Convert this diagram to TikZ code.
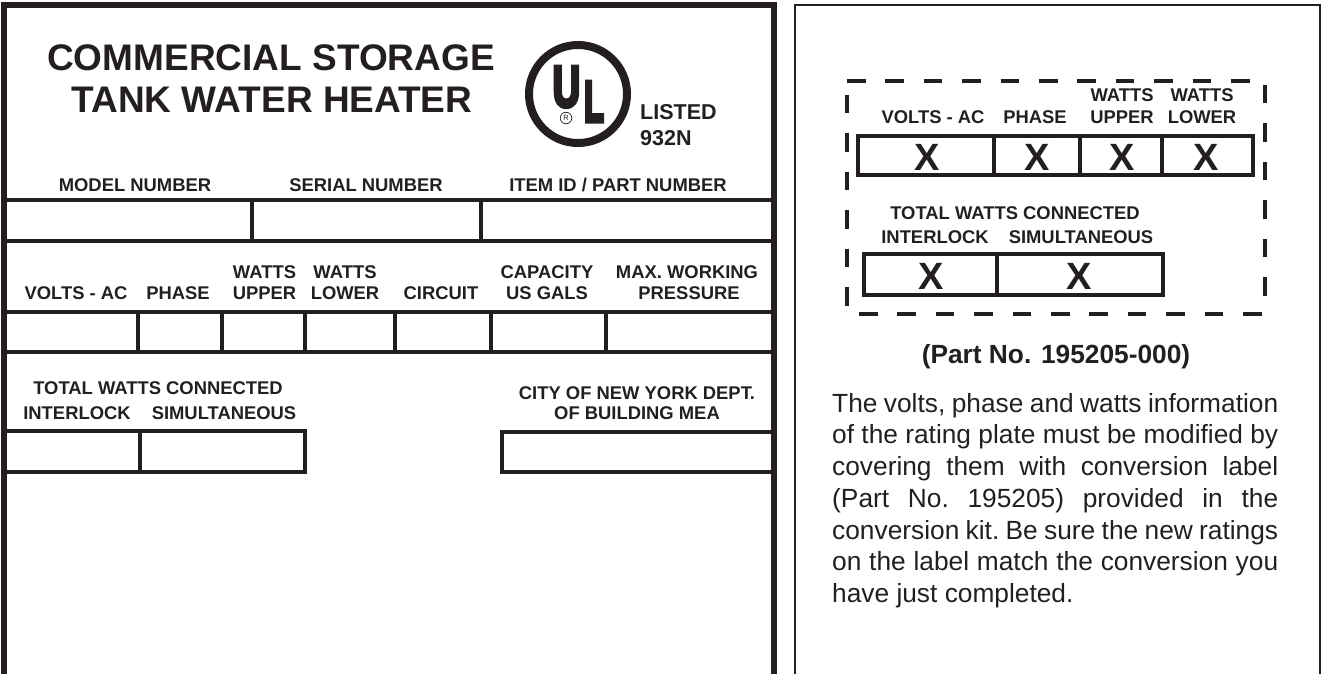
\documentclass[tikz,border=0pt]{standalone}
\usepackage{fontspec}
\setmainfont{Liberation Sans}
\newfontfamily\ulfont[RawFeature={embolden=7}]{Liberation Sans Bold}
\usetikzlibrary{positioning}
\definecolor{ink}{HTML}{231F20}
\tikzset{
  heading/.style={font=\fontsize{37}{37}\selectfont\bfseries, text=ink, inner sep=0pt},
  lbl/.style={font=\fontsize{18.4}{18.4}\selectfont\bfseries, text=ink, inner sep=0pt, text height=13.2pt, text depth=0pt},
  biglbl/.style={lbl, font=\fontsize{21.5}{21.5}\selectfont\bfseries, text height=14.8pt},
  bigx/.style={font=\fontsize{38}{38}\selectfont\bfseries, text=ink, inner sep=0pt},
  logo/.style={text=ink, inner sep=0pt, font=\fontsize{58}{58}\ulfont, xscale=0.56, text height=40pt, text depth=0pt},
  rule/.style={draw=ink, line width=4pt},
  frame/.style={draw=ink, line width=5.5pt},
  cutline/.style={draw=ink, line width=4pt, dash pattern=on 18.5pt off 19.9pt}
}
\begin{document}
\begin{tikzpicture}[x=1pt, y=-1pt]
    \useasboundingbox (0,0) rectangle (1324,674);

    % rating plate
    \draw[frame] (4,674) -- (4,5) -- (774,5) -- (774,674);
    \node[heading] (title1) at (271,58) {COMMERCIAL STORAGE};
    \node[heading] (title2) at (272,100) {TANK WATER HEATER};

    \draw[draw=ink, line width=8pt] (578,94) circle (49);
    \node[logo, xscale=1.17] (ulu) at (566.5,86.5) {U};
    \node[logo] (ull) at (594,101.5) {L};
    \node[draw=ink, circle, line width=0.7pt, inner sep=0pt, minimum size=11.5pt, text=ink, font=\fontsize{7.5}{7.5}\selectfont] (ulr) at (566,118) {R};

    \node[biglbl, anchor=west] (listed) at (640,112) {LISTED};
    \node[biglbl, anchor=west] (file) at (640,138) {932N};

    \node[lbl] (model) at (135,185) {MODEL NUMBER};
    \node[lbl] (serial) at (366,185) {SERIAL NUMBER};
    \node[lbl] (item) at (618,185) {ITEM ID / PART NUMBER};

    \draw[rule] (4,200) -- (774,200);
    \draw[rule] (4,241) -- (774,241);
    \foreach \x in {252,481}
        \draw[rule] (\x,200) -- (\x,241);

    \node[lbl] (volts) at (76,293) {VOLTS - AC};
    \node[lbl] (phase) at (178,293) {PHASE};
    \node[lbl] (upper) at (264.5,293) {UPPER};
    \node[lbl, above=8pt of upper] (wupper) {WATTS};
    \node[lbl] (lower) at (345,293) {LOWER};
    \node[lbl, above=8pt of lower] (wlower) {WATTS};
    \node[lbl] (circuit) at (441,293) {CIRCUIT};
    \node[lbl] (gals) at (547,293) {US GALS};
    \node[lbl, above=8pt of gals] (capacity) {CAPACITY};
    \node[lbl] (pressure) at (689,293) {PRESSURE};
    \node[lbl, above=8pt of pressure, xshift=-2pt] (working) {MAX. WORKING};

    \draw[rule] (4,312) -- (774,312);
    \draw[rule] (4,352) -- (774,352);
    \foreach \x in {138,222,305,395,491,606}
        \draw[rule] (\x,312) -- (\x,352);

    \node[lbl] (total) at (158,388) {TOTAL WATTS CONNECTED};
    \node[lbl] (interlock) at (77,413) {INTERLOCK};
    \node[lbl] (simul) at (224,413) {SIMULTANEOUS};
    \node[lbl] (city) at (637,393) {CITY OF NEW YORK DEPT.};
    \node[lbl] (mea) at (637,413) {OF BUILDING MEA};

    \draw[rule] (4,431) -- (305,431) -- (305,472) -- (4,472);
    \draw[rule] (140,431) -- (140,472);
    \draw[rule] (774,432) -- (502,432) -- (502,472) -- (774,472);

    % conversion label
    \draw[draw=ink, line width=2.5pt] (795,674) -- (795,5) -- (1320,5) -- (1320,674);

    \draw[cutline] (847,81) -- (1263,81);
    \draw[cutline] (859,314) -- (1263,314);
    \draw[cutline] (847,95) -- (847,308);
    \draw[cutline] (1265,85) -- (1265,300);

    \node[lbl] (cvolts) at (933,117) {VOLTS - AC};
    \node[lbl] (cphase) at (1035,117) {PHASE};
    \node[lbl] (cupper) at (1122,117) {UPPER};
    \node[lbl, above=8pt of cupper] (cwupper) {WATTS};
    \node[lbl] (clower) at (1202,117) {LOWER};
    \node[lbl, above=8pt of clower] (cwlower) {WATTS};

    \draw[rule] (858,136) rectangle (1253,175);
    \foreach \x in {994,1080,1162}
        \draw[rule] (\x,136) -- (\x,175);
    \foreach \x/\n in {927/xa,1037/xb,1122/xc,1206/xd}
        \node[bigx] (\n) at (\x,157) {X};

    \node[lbl] (ctotal) at (1015,213) {TOTAL WATTS CONNECTED};
    \node[lbl] (cinterlock) at (935,237) {INTERLOCK};
    \node[lbl] (csimul) at (1081,237) {SIMULTANEOUS};

    \draw[rule] (864,254) rectangle (1163,295);
    \draw[rule] (997,254) -- (997,295);
    \node[bigx] (xe) at (931,276) {X};
    \node[bigx] (xf) at (1079,276) {X};

    \node[lbl, font=\fontsize{26.3}{26.3}\selectfont\bfseries, text height=18pt] (partno) at (1056,354) {(Part No. 195205-000)};

    \node[text=ink, inner sep=0pt, anchor=north west, text width=446pt, align=justify,
          font=\fontsize{26.3}{31.7}\selectfont\frenchspacing] (notes) at (832,393) {The volts, phase and watts information\linebreak
        of the rating plate must be modified by\linebreak
        covering them with conversion label\linebreak
        (Part No. 195205) provided in the\linebreak
        conversion kit. Be sure the new ratings\linebreak
        on the label match the conversion you\linebreak
        have just completed.};
\end{tikzpicture}
\end{document}
